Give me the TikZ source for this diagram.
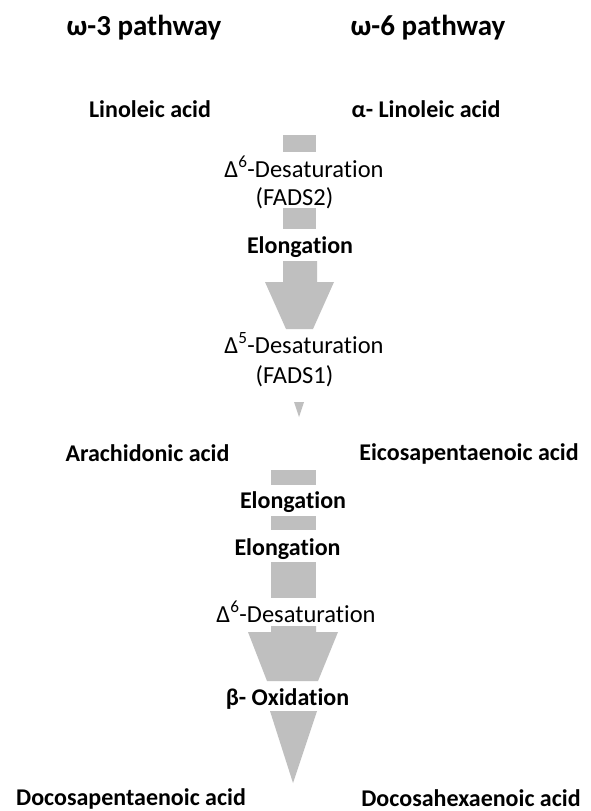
\documentclass[tikz,border=0pt]{standalone}
\usepackage{fontspec}
\setmainfont{Carlito}[Ligatures=NoCommon]
\begin{document}
\begin{tikzpicture}[x=1pt,y=-1pt,
  title/.style={font=\fontsize{29}{31}\selectfont\bfseries, inner sep=0pt, anchor=base},
  acid/.style={font=\fontsize{24}{26}\selectfont\bfseries, inner sep=0pt, anchor=base},
  enz/.style={font=\fontsize{24.5}{26}\selectfont, inner sep=0pt, anchor=base},
  step2/.style={font=\fontsize{24}{26}\selectfont\bfseries, inner sep=0pt, anchor=base},
  shp/.style={fill=black!25, draw=none}]
\useasboundingbox (0,0) rectangle (591,811);
\fill[white] (0,0) rectangle (591,811);
% titles
\node[title] (t3) at (144,35) {ω-3 pathway};
\node[title] (t6) at (428,35) {ω-6 pathway};
% acids
\node[acid] (la) at (150,117) {Linoleic acid};
\node[acid] (ala) at (426,117) {α- Linoleic acid};
\node[acid] (aa) at (147.5,461) {Arachidonic acid};
\node[acid] (epa) at (469,460) {Eicosapentaenoic acid};
\node[acid, text depth=0pt] (dpa) at (131,805) {Docosapentaenoic acid};
\node[acid, text depth=0pt] (dha) at (471,806) {Docosahexaenoic acid};
% upper column
\fill[shp] (283,135) rectangle (316,152);
\node[enz] (d6) at (304,177) {Δ\textsuperscript{6}-Desaturation};
\node[enz] (f2) at (294.5,205) {(FADS2)};
\fill[shp] (283,208) rectangle (316,229);
\node[step2] (el1) at (300,253) {Elongation};
\fill[shp] (283,261) -- (317,261) -- (317,282) -- (334,282) -- (313,329) -- (286,329) -- (265,282) -- (283,282) -- cycle;
\node[enz] (d5) at (304,353) {Δ\textsuperscript{5}-Desaturation};
\node[enz] (f1) at (294.5,383) {(FADS1)};
\fill[shp] (294,402) -- (304,402) -- (299,417) -- cycle;
% lower column
\fill[shp] (271,470) rectangle (316,485);
\node[step2] (el2) at (293,508) {Elongation};
\fill[shp] (271,516) rectangle (316,530);
\node[step2] (el3) at (287.5,555) {Elongation};
\fill[shp] (271,562) rectangle (316,598);
\node[enz] (d6b) at (296,622) {Δ\textsuperscript{6}-Desaturation};
\fill[shp] (271,626) -- (316,626) -- (316,632) -- (338,632) -- (318,681) -- (267,681) -- (248,632) -- (271,632) -- cycle;
\node[step2] (box) at (287.5,705) {β- Oxidation};
\fill[shp] (270,711) -- (317,711) -- (293,783) -- cycle;
\end{tikzpicture}
\end{document}
